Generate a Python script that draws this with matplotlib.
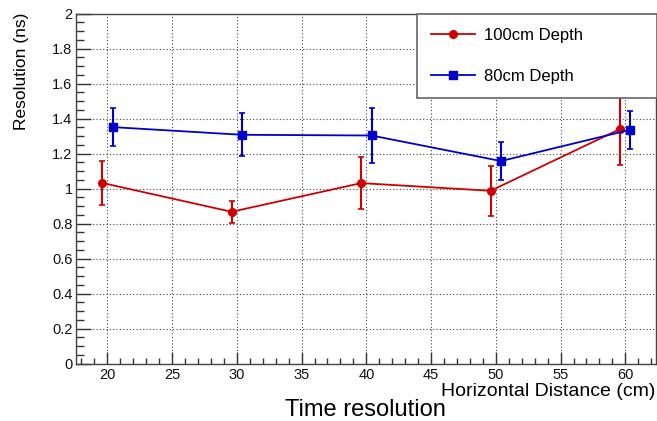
import numpy as np
import matplotlib
matplotlib.use("Agg")
import matplotlib.pyplot as plt
from matplotlib.ticker import MultipleLocator
from matplotlib.lines import Line2D

plt.rcParams['font.family'] = ['Liberation Sans', 'DejaVu Sans']

# 100cm depth
x_100 = [19.6, 29.6, 39.6, 49.6, 59.6]
y_100 = [1.033, 0.868, 1.032, 0.988, 1.341]
e_100 = [0.127, 0.062, 0.150, 0.144, 0.205]

# 80cm depth
x_80 = [20.4, 30.4, 40.4, 50.4, 60.4]
y_80 = [1.352, 1.308, 1.304, 1.158, 1.337]
e_80 = [0.108, 0.122, 0.155, 0.108, 0.108]

red = '#d00000'
blue = '#0000cc'

fig = plt.figure(figsize=(6.57, 4.21), dpi=100)
ax = fig.add_axes([76/657, 1 - 363.7/421, 580/657, 350/421])

ax.errorbar(x_100, y_100, yerr=e_100, color=red, marker='o', markersize=5.5,
            lw=1.3, elinewidth=1.5, capsize=2, capthick=1.2, zorder=3)
ax.errorbar(x_80, y_80, yerr=e_80, color=blue, marker='s', markersize=5.5,
            lw=1.3, elinewidth=1.5, capsize=2, capthick=1.2, zorder=3)

ax.set_xlim(17.58, 62.37)
ax.set_ylim(0, 2)
ax.xaxis.set_major_locator(MultipleLocator(5))
ax.xaxis.set_minor_locator(MultipleLocator(1))
ax.yaxis.set_minor_locator(MultipleLocator(0.05))
ax.set_yticks(np.arange(0, 2.01, 0.2))
ax.set_yticklabels(['0', '0.2', '0.4', '0.6', '0.8', '1', '1.2', '1.4', '1.6', '1.8', '2'])

ax.tick_params(axis='both', which='both', direction='in', colors='#333333',
               labelcolor='#111111', labelsize=10.5, width=1.0)
ax.tick_params(axis='y', which='major', length=11, pad=2.5)
ax.tick_params(axis='y', which='minor', length=5.4)
ax.tick_params(axis='x', which='major', length=8.6, pad=3)
ax.tick_params(axis='x', which='minor', length=4.3)

ax.grid(True, which='major', color='#444444', linestyle=(0, (1, 2)), linewidth=0.8)
ax.set_axisbelow(True)
for s in ax.spines.values():
    s.set_color('#444444')
    s.set_linewidth(1.0)

handles = [Line2D([], [], color=red, marker='o', markersize=5.5, lw=1.3),
           Line2D([], [], color=blue, marker='s', markersize=5.5, lw=1.3)]
leg = ax.legend(handles, ['100cm Depth', '80cm Depth'], loc='upper left',
                bbox_to_anchor=((417 - 76)/580, 0, (657 - 417)/580, 1.0), mode='expand',
                frameon=True, fancybox=False, edgecolor='#666666', framealpha=1,
                fontsize=12, handlelength=2.6, borderpad=0.85, labelspacing=1.55,
                borderaxespad=0, handletextpad=0.55)
leg.get_frame().set_linewidth(1.2)
leg.set_zorder(5)

fig.text(655/657, 1 - 392/421, 'Horizontal Distance (cm)', ha='right', va='center', fontsize=14)
fig.text(22/657, 1 - 13/421, 'Resolution (ns)', ha='center', va='top', rotation=90, fontsize=12.5)
fig.text(365/657, 1 - 410/421, 'Time resolution', ha='center', va='center', fontsize=17)

fig.savefig('out.png', dpi=100)
